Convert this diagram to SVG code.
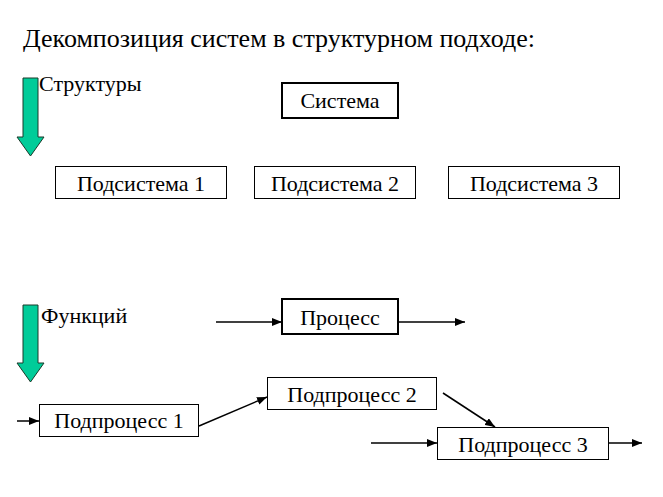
<svg xmlns="http://www.w3.org/2000/svg" width="663" height="497" viewBox="0 0 663 497">
<defs>
<style>
text{font-family:"Liberation Serif","Times New Roman",serif;fill:#000}
.t{font-size:22px;text-anchor:middle}
.l{font-size:22px}
.box{fill:#fff;stroke:#000;stroke-width:1}
.bold{fill:#fff;stroke:#000;stroke-width:2}
.c{stroke:#000;stroke-width:1.5;fill:none;marker-end:url(#ah)}
.big{fill:#00CC99;stroke:#1a3a2a;stroke-width:1}
</style>
<marker id="ah" viewBox="0 0 10 8" refX="10" refY="4" markerWidth="10" markerHeight="8" markerUnits="userSpaceOnUse" orient="auto">
<path d="M0,0 L10,4 L0,8 Z" fill="#000"/>
</marker>
</defs>
<rect width="663" height="497" fill="#fff"/>
<text x="23" y="47" style="font-size:26px">Декомпозиция систем в структурном подходе:</text>
<g id="arrow-struct"><path class="big" d="M23,78 H38 V137 H44 L30.5,156 L17,137 H23 Z"/></g>
<text x="39" y="91" class="l">Структуры</text>
<g id="arrow-func"><path class="big" d="M23,305 H38 V363 H44 L30.5,382 L17,363 H23 Z"/></g>
<text x="41" y="323" class="l">Функций</text>
<g id="sistema"><rect class="bold" x="282" y="83" width="116" height="35"/><text class="t" x="340" y="108">Система</text></g>
<g id="podsistema1"><rect class="box" x="55.5" y="166.5" width="171" height="32"/><text class="t" x="141" y="191">Подсистема 1</text></g>
<g id="podsistema2"><rect class="box" x="254.5" y="166.5" width="161" height="32"/><text class="t" x="335" y="191">Подсистема 2</text></g>
<g id="podsistema3"><rect class="box" x="448.5" y="166.5" width="171" height="32"/><text class="t" x="534" y="191">Подсистема 3</text></g>
<g id="process"><rect class="bold" x="282" y="299" width="116" height="35"/><text class="t" x="340" y="325">Процесс</text></g>
<g id="podprocess1"><rect class="box" x="39.5" y="404.5" width="159" height="32"/><text class="t" x="119" y="428">Подпроцесс 1</text></g>
<g id="podprocess2"><rect class="box" x="267.5" y="377.5" width="169" height="32"/><text class="t" x="352" y="402">Подпроцесс 2</text></g>
<g id="podprocess3"><rect class="box" x="437.5" y="427.5" width="171" height="32"/><text class="t" x="523" y="452">Подпроцесс 3</text></g>
<g id="connectors">
<line class="c" x1="216" y1="322" x2="282" y2="322"/>
<line class="c" x1="398" y1="322" x2="465" y2="322"/>
<line class="c" x1="17" y1="421" x2="39" y2="421"/>
<line class="c" x1="199" y1="426" x2="267" y2="397"/>
<line class="c" x1="443" y1="393" x2="495" y2="427"/>
<line class="c" x1="371" y1="443" x2="437" y2="443"/>
<line class="c" x1="609" y1="443" x2="642" y2="443"/>
</g>
</svg>
